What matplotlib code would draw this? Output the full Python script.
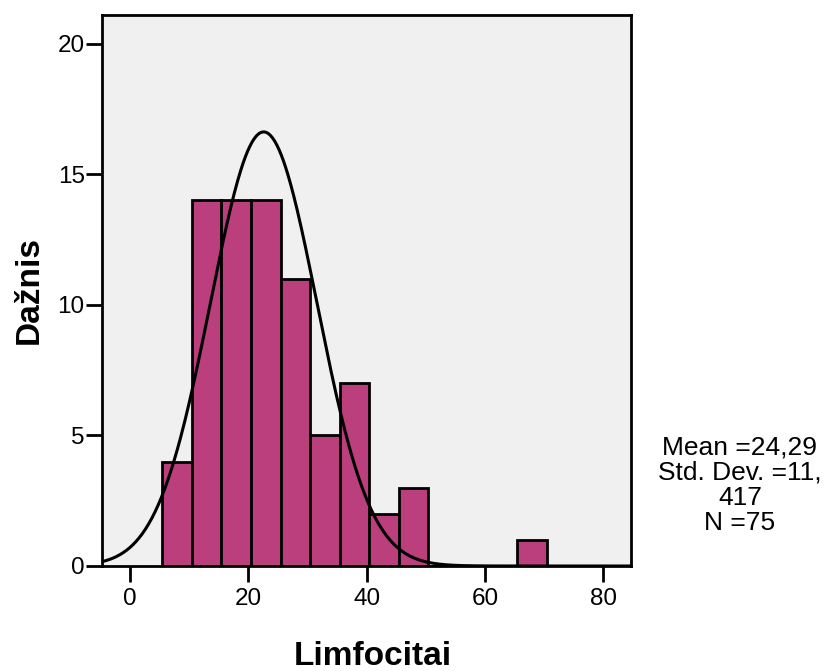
import numpy as np
import matplotlib.pyplot as plt

plt.rcParams['font.family'] = ['Liberation Sans', 'DejaVu Sans']

# Histogram bins (left edges) and counts
bin_start = 5.46
bin_width = 5.0
counts = [4, 14, 14, 14, 11, 5, 7, 2, 3, 0, 0, 0, 1]

# Normal curve as drawn
curve_mean = 22.6
curve_sd = 9.0
n_total = 75

stats_text = "Mean =24,29\nStd. Dev. =11,\n417\nN =75"
x_ticks = [0, 20, 40, 60, 80]
y_ticks = [0, 5, 10, 15, 20]

fig = plt.figure(figsize=(8.27, 6.71), dpi=100)
ax = fig.add_axes([102 / 827, 1 - 566 / 671, (631 - 102) / 827, (566 - 15) / 671])
ax.set_facecolor('#F0F0F0')

lefts = bin_start + bin_width * np.arange(len(counts))
ax.bar(lefts, counts, width=bin_width, align='edge', color='#BB3F7D',
       edgecolor='black', linewidth=2, zorder=2)

xs = np.linspace(-4.73, 84.7, 500)
ys = n_total * bin_width * np.exp(-0.5 * ((xs - curve_mean) / curve_sd) ** 2) / (curve_sd * np.sqrt(2 * np.pi))
ax.plot(xs, ys, color='black', linewidth=2.2, zorder=3)

ax.set_xlim(-4.73, 84.7)
ax.set_ylim(0, 21.1)
ax.set_xticks(x_ticks)
ax.set_yticks(y_ticks)
ax.tick_params(direction='out', length=11.5, width=2, labelsize=17.5, pad=1)
ax.tick_params(axis='x', pad=4)
for s in ax.spines.values():
    s.set_linewidth(2)

ax.set_xlabel('Limfocitai', fontsize=24, fontweight='bold', labelpad=23)
ax.set_ylabel('Dažnis', fontsize=24, fontweight='bold', labelpad=9)
ax.xaxis.label.set_x(0.512)

fig.text(740 / 827, 1 - 485 / 671, stats_text, ha='center', va='center',
         fontsize=19, linespacing=1.06)

fig.savefig('out.png', dpi=100)
